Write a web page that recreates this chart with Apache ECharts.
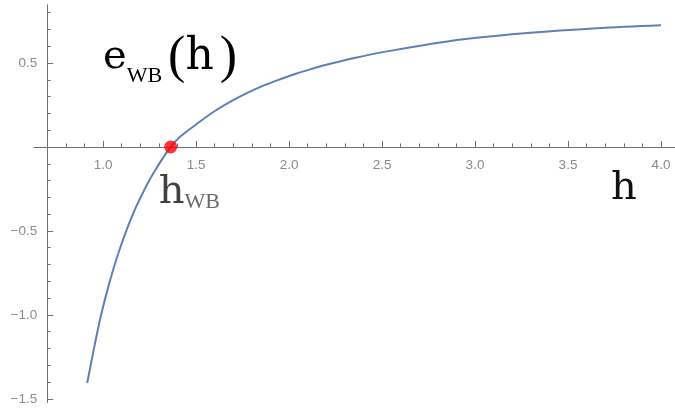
<!DOCTYPE html>
<html>
<head>
<meta charset="utf-8">
<script src="https://cdn.jsdelivr.net/npm/echarts@6/dist/echarts.min.js"></script>
<style>
  html, body { margin: 0; padding: 0; background: #ffffff; }
  #chart { width: 675px; height: 415px; }
</style>
</head>
<body>
<div id="chart"></div>
<script>
// Sampled points of the curve e_WB(h)
const hValues = [0.915, 0.952, 0.988, 1.032, 1.086, 1.158, 1.238, 1.289, 1.337, 1.364,
                 1.414, 1.504, 1.593, 1.683, 1.773, 1.862, 1.952, 2.041, 2.113, 2.184,
                 2.364, 2.543, 2.722, 2.937, 3.296, 3.654, 4.0];
const eValues = [-1.405, -1.196, -1.008, -0.818, -0.621, -0.407, -0.221, -0.123, -0.041, 0,
                 0.060, 0.137, 0.208, 0.268, 0.320, 0.365, 0.403, 0.437, 0.462, 0.485,
                 0.533, 0.572, 0.606, 0.641, 0.680, 0.707, 0.725];

// Root of e_WB(h)
const hWB = 1.364;
const eAtRoot = 0;

// Tick positions
const xMajorTicks = [1.0, 1.5, 2.0, 2.5, 3.0, 3.5, 4.0];
const xMinorTicks = [0.7, 0.8, 0.9, 1.0, 1.1, 1.2, 1.3, 1.4, 1.5, 1.6, 1.7, 1.8, 1.9, 2.0,
                     2.1, 2.2, 2.3, 2.4, 2.5, 2.6, 2.7, 2.8, 2.9, 3.0, 3.1, 3.2, 3.3, 3.4,
                     3.5, 3.6, 3.7, 3.8, 3.9, 4.0];
const yMajorTicks = [-1.5, -1.0, -0.5, 0.5];
const yMinorTicks = [-1.5, -1.4, -1.3, -1.2, -1.1, -1.0, -0.9, -0.8, -0.7, -0.6, -0.5, -0.4,
                     -0.3, -0.2, -0.1, 0.1, 0.2, 0.3, 0.4, 0.5, 0.6, 0.7, 0.8];

// Axis ranges and layout; the axes cross at (Y_AXIS_AT, X_AXIS_AT)
const X_MIN = 0.63, X_MAX = 4.1;
const Y_MIN = -1.52, Y_MAX = 0.845;
const Y_AXIS_AT = 0.7;
const X_AXIS_AT = 0;
const gridBox = { left: 34.2, top: 5, width: 645.4, height: 397.3, outerBoundsMode: 'none', containLabel: false };
const pxPerX = gridBox.width / (X_MAX - X_MIN);
const pxPerY = gridBox.height / (Y_MAX - Y_MIN);
const yAxisShift = -(Y_AXIS_AT - X_MIN) * pxPerX;
const xAxisShift = -(X_AXIS_AT - Y_MIN) * pxPerY;

const AXIS_COLOR = '#6f6f6f';
const LABEL_COLOR = '#8a8a8a';
const CURVE_COLOR = '#5e81b5';
const SLAB = '"DejaVu Serif", serif';
const SERIF = '"Liberation Serif", "DejaVu Serif", serif';

const tickLabelStyle = {
  color: LABEL_COLOR,
  fontSize: 13.5,
  fontFamily: '"Liberation Sans", Arial, sans-serif'
};

const minusFmt = v => (v < 0 ? '\u2212' : '') + Math.abs(v).toFixed(1);

const richMath = {
  m: { fontFamily: SLAB, fontSize: 40, color: '#111111' },
  m2: { fontFamily: SLAB, fontSize: 44, color: '#111111' },
  p: { fontFamily: SERIF, fontSize: 52, color: '#111111', padding: [0, 0, 0, 6] },
  q: { fontFamily: SERIF, fontSize: 52, color: '#111111', padding: [0, 0, 0, 6] },
  s: { fontFamily: SERIF, fontSize: 22, color: '#444444', padding: [36, 0, 0, 0] },
  s2: { fontFamily: SERIF, fontSize: 22, color: '#444444', padding: [19.6, 0, 0, 0] }
};

const curveData = hValues.map((h, i) => [h, eValues[i]]);

const chart = echarts.init(document.getElementById('chart'), null, { renderer: 'canvas' });

function xAxisCfg(ticks, tickLen, withLabels) {
  return {
    type: 'value', min: X_MIN, max: X_MAX, position: 'bottom', offset: xAxisShift,
    axisLine: { show: true, onZero: false, lineStyle: { color: AXIS_COLOR, width: 1 } },
    axisTick: { customValues: ticks, inside: true, length: tickLen, lineStyle: { color: AXIS_COLOR } },
    axisLabel: withLabels
      ? Object.assign({ customValues: ticks, margin: 11, formatter: v => v.toFixed(1) }, tickLabelStyle)
      : { show: false },
    splitLine: { show: false }
  };
}

function yAxisCfg(ticks, tickLen, withLabels) {
  return {
    type: 'value', min: Y_MIN, max: Y_MAX, position: 'left', offset: yAxisShift,
    axisLine: { show: true, onZero: false, lineStyle: { color: AXIS_COLOR, width: 1 } },
    axisTick: { customValues: ticks, inside: true, length: tickLen, lineStyle: { color: AXIS_COLOR } },
    axisLabel: withLabels
      ? Object.assign({ customValues: ticks, margin: 10, formatter: minusFmt }, tickLabelStyle)
      : { show: false },
    splitLine: { show: false }
  };
}

chart.setOption({
  animation: false,
  backgroundColor: '#ffffff',
  grid: gridBox,
  xAxis: [xAxisCfg(xMajorTicks, 6, true), xAxisCfg(xMinorTicks, 3.5, false)],
  yAxis: [yAxisCfg(yMajorTicks, 6, true), yAxisCfg(yMinorTicks, 3.5, false)],
  series: [
    {
      type: 'line',
      data: curveData,
      showSymbol: false,
      smooth: 0.35,
      lineStyle: { color: CURVE_COLOR, width: 2 },
      z: 2
    },
    {
      type: 'scatter',
      data: [[hWB, eAtRoot]],
      symbolSize: 13,
      itemStyle: { color: '#ff0000' },
      z: 3,
      label: {
        show: true,
        position: [-5.5, 31],
        formatter: '{m|h}{s2|WB}',
        rich: richMath
      }
    }
  ],
  graphic: [
    {
      type: 'text', left: 103, top: 32, z: 10,
      style: { text: '{m|e}{s|WB}{p|(}{m2|h}{q|)}', rich: richMath }
    },
    {
      type: 'text', left: 611, top: 168.2, z: 10,
      style: { text: 'h', fontFamily: SLAB, fontSize: 40, fill: '#111111' }
    }
  ]
});
</script>
</body>
</html>
